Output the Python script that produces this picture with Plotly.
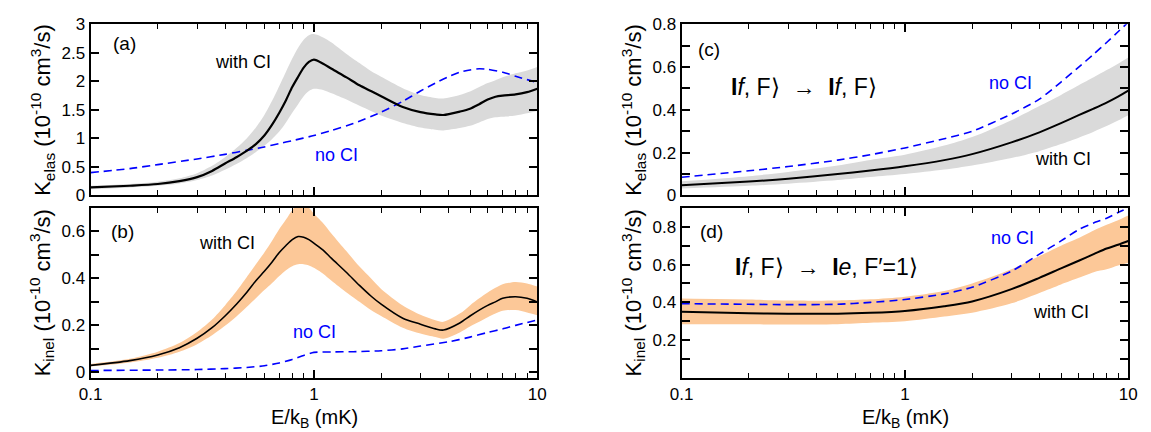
import plotly.graph_objects as go

# ---------------- data ----------------
# panel (a): elastic, with/without CI
x_a = [0.1,0.15,0.2,0.25,0.3,0.35,0.4,0.45,0.5,0.55,0.6,0.65,0.7,0.75,0.8,0.85,0.9,0.95,1.0,1.1,1.2,1.4,1.6,1.8,2.0,2.5,3.0,3.5,3.8,4.5,5.0,5.5,6.0,6.5,7.0,8.0,9.0,10.0]
a_ci = [0.14,0.17,0.20,0.25,0.32,0.43,0.56,0.67,0.78,0.90,1.05,1.24,1.45,1.67,1.90,2.08,2.24,2.34,2.38,2.31,2.22,2.07,1.93,1.83,1.74,1.55,1.46,1.42,1.41,1.47,1.52,1.60,1.68,1.73,1.75,1.77,1.81,1.87]
a_hi = [0.17,0.20,0.24,0.30,0.39,0.52,0.67,0.83,1.00,1.19,1.41,1.66,1.92,2.17,2.40,2.59,2.73,2.81,2.83,2.77,2.68,2.48,2.32,2.18,2.08,1.88,1.76,1.71,1.70,1.76,1.82,1.90,1.97,2.02,2.07,2.14,2.19,2.25]
a_lo = [0.11,0.14,0.17,0.21,0.27,0.35,0.45,0.55,0.65,0.76,0.87,0.99,1.12,1.28,1.45,1.60,1.74,1.83,1.87,1.85,1.79,1.68,1.57,1.48,1.40,1.27,1.19,1.15,1.14,1.18,1.22,1.28,1.34,1.37,1.38,1.40,1.44,1.48]
x_a_no = [0.1,0.15,0.2,0.3,0.4,0.5,0.6,0.7,0.8,1.0,1.2,1.5,2.0,2.5,3.0,3.5,4.0,4.5,5.0,5.5,6.0,7.0,8.0,9.0,10.0]
a_no = [0.40,0.47,0.54,0.64,0.72,0.79,0.85,0.91,0.96,1.05,1.14,1.26,1.46,1.65,1.83,1.97,2.08,2.16,2.20,2.22,2.21,2.16,2.09,2.03,1.98]

# panel (b): inelastic
x_b = x_a
b_ci = [0.030,0.050,0.074,0.105,0.145,0.19,0.24,0.29,0.34,0.39,0.43,0.47,0.51,0.54,0.565,0.578,0.575,0.565,0.55,0.52,0.485,0.425,0.37,0.325,0.29,0.23,0.205,0.185,0.18,0.21,0.24,0.265,0.285,0.30,0.315,0.322,0.315,0.30]
b_hi = [0.036,0.058,0.088,0.125,0.172,0.225,0.285,0.345,0.405,0.46,0.51,0.56,0.61,0.65,0.69,0.715,0.715,0.70,0.675,0.635,0.59,0.515,0.45,0.40,0.355,0.285,0.245,0.222,0.215,0.25,0.285,0.315,0.34,0.36,0.375,0.385,0.378,0.365]
b_lo = [0.025,0.042,0.062,0.088,0.12,0.158,0.198,0.238,0.278,0.315,0.35,0.38,0.41,0.435,0.452,0.46,0.46,0.455,0.445,0.42,0.39,0.34,0.30,0.265,0.24,0.19,0.165,0.15,0.143,0.17,0.195,0.215,0.235,0.25,0.262,0.265,0.255,0.243]
x_b_no = [0.1,0.2,0.3,0.4,0.5,0.6,0.7,0.8,0.9,1.0,1.2,1.5,2.0,2.5,3.0,4.0,5.0,6.0,7.0,8.0,10.0]
b_no = [0.008,0.010,0.012,0.016,0.021,0.028,0.040,0.055,0.072,0.085,0.087,0.088,0.092,0.100,0.112,0.130,0.150,0.170,0.185,0.200,0.223]

# panels (c), (d)
x_cd = [0.1,0.2,0.3,0.5,0.7,1.0,1.5,2.0,3.0,4.0,5.0,6.0,7.0,8.0,9.0,10.0]
c_ci = [0.048,0.065,0.078,0.10,0.116,0.136,0.165,0.193,0.248,0.295,0.338,0.375,0.406,0.434,0.462,0.49]
c_hi = [0.066,0.09,0.11,0.14,0.166,0.19,0.233,0.273,0.352,0.418,0.47,0.515,0.552,0.586,0.616,0.645]
c_lo = [0.032,0.045,0.055,0.072,0.086,0.10,0.121,0.14,0.175,0.207,0.24,0.27,0.298,0.324,0.35,0.375]
c_no = [0.085,0.115,0.135,0.165,0.19,0.222,0.265,0.30,0.38,0.45,0.53,0.60,0.66,0.715,0.765,0.81]

d_ci = [0.35,0.342,0.34,0.34,0.345,0.355,0.38,0.405,0.47,0.53,0.58,0.62,0.655,0.685,0.705,0.725]
d_hi = [0.42,0.415,0.41,0.41,0.416,0.43,0.46,0.50,0.575,0.645,0.70,0.74,0.78,0.81,0.835,0.86]
d_lo = [0.285,0.284,0.283,0.285,0.292,0.30,0.325,0.345,0.395,0.45,0.495,0.53,0.56,0.575,0.595,0.61]
d_no = [0.393,0.39,0.388,0.39,0.40,0.415,0.445,0.48,0.565,0.655,0.725,0.785,0.82,0.845,0.875,0.90]

x_ticks = [0.1, 1, 10]
x_ticktext = ["0.1", "1", "10"]
x_minor = [0.2,0.3,0.4,0.5,0.6,0.7,0.8,0.9,2,3,4,5,6,7,8,9]

# ---------------- style ----------------
W, H = 1151, 432
FONT = "Liberation Sans, Arial, Helvetica, sans-serif"
GRAY = "rgb(218,218,218)"
ORANGE = "rgb(252,200,152)"
BLUE = "rgb(0,0,255)"

def px(x):
    return x / W

def py(y):
    return 1 - y / H

fig = go.Figure()

def add_panel(n, xs, ci, hi, lo, xno, no, band, lw):
    xa = "x" if n == 1 else f"x{n}"
    ya = "y" if n == 1 else f"y{n}"
    fig.add_trace(go.Scatter(x=xs, y=lo, mode="lines", line=dict(width=0, shape="spline", smoothing=0.8),
                             showlegend=False, hoverinfo="skip", xaxis=xa, yaxis=ya))
    fig.add_trace(go.Scatter(x=xs, y=hi, mode="lines", line=dict(width=0, shape="spline", smoothing=0.8),
                             fill="tonexty", fillcolor=band, showlegend=False, hoverinfo="skip",
                             xaxis=xa, yaxis=ya))
    fig.add_trace(go.Scatter(x=xno, y=no, mode="lines",
                             line=dict(color=BLUE, width=1.6, dash="8px,5px", shape="spline", smoothing=0.6),
                             showlegend=False, xaxis=xa, yaxis=ya))
    fig.add_trace(go.Scatter(x=xs, y=ci, mode="lines",
                             line=dict(color="black", width=lw, shape="spline", smoothing=0.8),
                             showlegend=False, xaxis=xa, yaxis=ya))

add_panel(1, x_a, a_ci, a_hi, a_lo, x_a_no, a_no, GRAY, 2.2)
add_panel(2, x_b, b_ci, b_hi, b_lo, x_b_no, b_no, ORANGE, 1.6)
add_panel(3, x_cd, c_ci, c_hi, c_lo, x_cd, c_no, GRAY, 2.0)
add_panel(4, x_cd, d_ci, d_hi, d_lo, x_cd, d_no, ORANGE, 2.0)

left_dom = [px(80), px(535)]
right_dom = [px(682), px(1137)]
top_dom = [py(195), py(16)]
bot_dom = [py(386), py(208)]

common_axis = dict(showline=True, linecolor="black", linewidth=2, mirror="ticks",
                   ticks="inside", tickcolor="black", tickwidth=1.5, ticklen=8,
                   showgrid=False, zeroline=False,
                   tickfont=dict(family=FONT, size=17, color="black"))

def xaxis(dom, anchor, labels):
    return dict(common_axis, domain=dom, anchor=anchor, type="log", range=[-1, 1],
                tickvals=x_ticks, ticktext=x_ticktext, showticklabels=labels,
                minor=dict(tickvals=x_minor, ticks="inside", ticklen=5, tickcolor="black",
                           tickwidth=1.2, showgrid=False))

def yaxis(dom, anchor, rng, vals, texts, minor_vals):
    d = dict(common_axis, domain=dom, anchor=anchor, range=rng, tickvals=vals, ticktext=texts)
    if minor_vals:
        d["minor"] = dict(tickvals=minor_vals, ticks="inside", ticklen=8, tickcolor="black",
                          tickwidth=1.5, showgrid=False)
    return d

fig.update_layout(
    width=W, height=H, autosize=False,
    margin=dict(l=0, r=0, t=0, b=0),
    paper_bgcolor="white", plot_bgcolor="white",
    font=dict(family=FONT, color="black"),
    xaxis=xaxis(left_dom, "y", False),
    xaxis2=xaxis(left_dom, "y2", True),
    xaxis3=xaxis(right_dom, "y3", False),
    xaxis4=xaxis(right_dom, "y4", True),
    yaxis=yaxis(top_dom, "x", [0, 3], [0, 0.5, 1, 1.5, 2, 2.5, 3],
                ["0", "0.5", "1", "1.5", "2", "2.5", "3"], None),
    yaxis2=yaxis(bot_dom, "x2", [-0.024, 0.7], [0, 0.2, 0.4, 0.6],
                 ["0", "0.2", "0.4", "0.6"], [0.1, 0.3, 0.5]),
    yaxis3=yaxis(top_dom, "x3", [0, 0.8], [0, 0.2, 0.4, 0.6, 0.8],
                 ["0", "0.2", "0.4", "0.6", "0.8"], [0.1, 0.3, 0.5, 0.7]),
    yaxis4=yaxis(bot_dom, "x4", [0, 0.9], [0.2, 0.4, 0.6, 0.8],
                 ["0.2", "0.4", "0.6", "0.8"], [0.1, 0.3, 0.5, 0.7]),
)

def ann(x, y, text, size, color="black", angle=0, xanchor="center"):
    fig.add_annotation(x=px(x), y=py(y), xref="paper", yref="paper", text=text,
                       showarrow=False, textangle=angle, xanchor=xanchor, yanchor="middle",
                       borderpad=0,
                       font=dict(family=FONT, size=size, color=color))

ytitle_elas = "K<sub>elas</sub> (10<sup>-10</sup> cm<sup>3</sup>/s)"
ytitle_inel = "K<sub>inel</sub> (10<sup>-10</sup> cm<sup>3</sup>/s)"
ann(31, 105, ytitle_elas, 22, angle=-90)
ann(31, 297, ytitle_inel, 22, angle=-90)
ann(633, 105, ytitle_elas, 22, angle=-90)
ann(633, 297, ytitle_inel, 22, angle=-90)

xtitle = "E/k<sub>B</sub> (mK)"
ann(308, 428, xtitle, 20)
ann(910, 428, xtitle, 20)

ann(102, 36, "(a)", 19, xanchor="left")
ann(100, 233, "(b)", 19, xanchor="left")
ann(698, 42, "(c)", 19, xanchor="left")
ann(700, 233, "(d)", 19, xanchor="left")

ann(235, 55, "with CI", 18)
ann(331, 153, "no CI", 18, color=BLUE)
ann(219, 245, "with CI", 18)
ann(308, 338, "no CI", 18, color=BLUE)
ann(1017, 77, "no CI", 18, color=BLUE)
ann(1071, 157, "with CI", 18)
ann(1019, 240, "no CI", 18, color=BLUE)
ann(1068, 317, "with CI", 18)

ann(731, 82, "<b>I</b><i>f</i>, F⟩  →  <b>I</b><i>f</i>, F⟩", 23, xanchor="left")
ann(735, 270, "<b>I</b><i>f</i>, F⟩  →  <b>I</b><i>e</i>, F′=1⟩", 23, xanchor="left")

fig.write_html("out.html")
